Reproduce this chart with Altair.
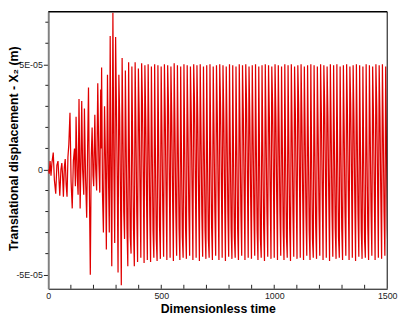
import altair as alt
import pandas as pd

FONT = "Liberation Sans"

# ---- transient part (time, value in 1e-5 m) ----
T_TIME = [0, 4, 8, 12, 16, 22, 27, 33, 38, 43, 47, 51, 56, 60, 63, 67, 71, 75, 79, 83,
          87, 91, 96, 101, 106, 111, 116, 120, 123, 128, 132, 136, 141, 145, 148, 152, 157, 160, 165, 170,
          174, 178, 182, 186, 190, 194, 198, 201, 206, 210, 214, 219, 224, 228, 232, 234, 236, 240, 244, 249,
          253, 257, 262, 266, 270, 274, 278, 281, 286, 290, 294]
T_VAL = [0.0, -0.2, 0.4, -0.3, 0.3, 0.8, -0.5, -1.15, 0.2, 0.4, -0.4, -1.25, 0.0, 0.3, -0.2, -1.3, 0.1, 0.5, -0.7, -1.3,
         0.6, 1.2, 2.7, -0.6, -1.85, 0.4, 1.0, -0.8, 2.5, -0.3, -1.2, 3.35, -1.85, 0.6, 3.25, 0.0, -1.2, 2.9, -0.4, -2.3,
         1.0, 3.9, -1.0, -5.0, 0.5, 2.0, -0.3, -0.8, 2.6, 0.0, -1.0, 4.1, 0.3, -1.1, 3.8, 1.0, 4.85, -1.2, -3.0, 3.0,
         0.5, -3.8, 4.5, 0.0, -3.0, 6.35, -1.0, -4.6, 7.45, 0.5, -3.5]

# ---- quasi-steady part: per cycle peak, upper knee, lower knee, trough (1e-5 m) ----
STEADY_START = 298
CYCLE = 14.4
PEAK = [6.30, 4.50, 5.30, 4.70, 5.10, 4.90, 5.10, 4.80, 5.05, 4.95, 5.00, 4.90,
        5.00, 4.95, 4.90, 5.00, 4.95, 4.90, 5.05, 4.95, 4.90, 5.00, 4.95, 4.90,
        5.00, 4.95, 5.00, 4.90, 4.95, 5.00, 4.90, 4.95, 5.00, 4.95, 4.90, 5.00,
        4.95, 4.90, 5.00, 4.95, 5.00, 4.90, 4.95, 5.00, 4.90, 4.95, 5.00, 4.95,
        4.90, 5.00, 4.95, 4.90, 5.00, 4.95, 5.00, 4.90, 4.95, 5.00, 4.90, 4.95,
        5.00, 4.95, 4.90, 5.00, 4.95, 4.90, 5.00, 4.95, 5.00, 4.90, 4.95, 5.00,
        4.90, 4.95, 5.00, 4.95, 4.90, 5.00, 4.95, 4.90, 5.00, 4.95, 5.00, 4.90]
UPPER = [3.0, 2.5, 1.8, 1.0, 0.5, 1.0, 1.8, 2.6, 3.1, 2.4, 1.7, 0.9,
         0.4, 0.9, 1.7, 2.5, 3.0, 2.5, 1.8, 1.0, 0.5, 1.0, 1.8, 2.6,
         3.1, 2.4, 1.7, 0.9, 0.4, 0.9, 1.7, 2.5, 3.0, 2.5, 1.8, 1.0,
         0.5, 1.0, 1.8, 2.6, 3.1, 2.4, 1.7, 0.9, 0.4, 0.9, 1.7, 2.5,
         3.0, 2.5, 1.8, 1.0, 0.5, 1.0, 1.8, 2.6, 3.1, 2.4, 1.7, 0.9,
         0.4, 0.9, 1.7, 2.5, 3.0, 2.5, 1.8, 1.0, 0.5, 1.0, 1.8, 2.6,
         3.1, 2.4, 1.7, 0.9, 0.4, 0.9, 1.7, 2.5, 3.0, 2.5, 1.8, 1.0]
LOWER = [-0.5, -1.2, -2.0, -2.8, -3.2, -2.8, -2.0, -1.0, -0.4, -1.3, -2.1, -2.9,
         -3.3, -2.7, -1.9, -1.1, -0.5, -1.2, -2.0, -2.8, -3.2, -2.8, -2.0, -1.0,
         -0.4, -1.3, -2.1, -2.9, -3.3, -2.7, -1.9, -1.1, -0.5, -1.2, -2.0, -2.8,
         -3.2, -2.8, -2.0, -1.0, -0.4, -1.3, -2.1, -2.9, -3.3, -2.7, -1.9, -1.1,
         -0.5, -1.2, -2.0, -2.8, -3.2, -2.8, -2.0, -1.0, -0.4, -1.3, -2.1, -2.9,
         -3.3, -2.7, -1.9, -1.1, -0.5, -1.2, -2.0, -2.8, -3.2, -2.8, -2.0, -1.0,
         -0.4, -1.3, -2.1, -2.9, -3.3, -2.7, -1.9, -1.1, -0.5, -1.2, -2.0, -2.8]
TROUGH = [-4.90, -5.50, -3.30, -4.60, -4.00, -4.60, -4.40, -4.20, -4.45, -4.30, -4.40, -4.20,
          -4.35, -4.25, -4.15, -4.30, -4.20, -4.35, -4.10, -4.30, -4.20, -4.25, -4.10, -4.30,
          -4.20, -4.35, -4.15, -4.25, -4.20, -4.30, -4.10, -4.30, -4.20, -4.35, -4.15, -4.25,
          -4.20, -4.30, -4.10, -4.30, -4.20, -4.25, -4.10, -4.30, -4.20, -4.35, -4.15, -4.25,
          -4.20, -4.30, -4.10, -4.30, -4.20, -4.35, -4.15, -4.25, -4.20, -4.30, -4.10, -4.30,
          -4.20, -4.25, -4.10, -4.30, -4.20, -4.35, -4.15, -4.25, -4.20, -4.30, -4.10, -4.30,
          -4.20, -4.35, -4.15, -4.25, -4.20, -4.30, -4.10, -4.30, -4.20, -4.25, -4.10, -4.30]

X_LABELS = [0, 500, 1000, 1500]
X_MINOR = [100, 200, 300, 400, 600, 700, 800, 900, 1100, 1200, 1300, 1400, 500, 1000]
Y_LABELS = [-5e-5, 0.0, 5e-5]
Y_MINOR = [-4e-5, -3e-5, -2e-5, -1e-5, 1e-5, 2e-5, 3e-5, 4e-5, 6e-5, 7e-5]

rows = [{"t": t, "v": v * 1e-5} for t, v in zip(T_TIME, T_VAL)]
n = min(len(PEAK), len(UPPER), len(LOWER), len(TROUGH))
for k in range(n):
    base = STEADY_START + k * CYCLE
    for j, val in enumerate((PEAK[k], UPPER[k], LOWER[k], TROUGH[k])):
        rows.append({"t": base + j * CYCLE / 4, "v": val * 1e-5})
df = pd.DataFrame(rows)

W, H = 345, 282
xscale = alt.Scale(domain=[0, 1500], nice=False, zero=False)
yscale = alt.Scale(domain=[-5.67e-5, 7.5e-5], nice=False, zero=False)

xaxis = alt.Axis(values=X_LABELS, format="d", tickSize=0, domainColor="black", domainWidth=1,
                 labelFont=FONT, labelFontSize=9, labelColor="#222", labelPadding=3,
                 labelFlush=False, grid=False,
                 title="Dimensionless time", titleFont=FONT, titleFontSize=12.5,
                 titleFontWeight="bold", titleColor="black", titleY=24, titleBaseline="alphabetic")
yaxis = alt.Axis(values=Y_LABELS, tickSize=5, tickColor="#222", domainColor="#808080", domainWidth=2,
                 labelExpr="datum.value == 0 ? '0' : round(datum.value*1e5) + 'E-05'",
                 labelFont=FONT, labelFontSize=9, labelColor="#222", labelPadding=1,
                 labelFlush=False, grid=False,
                 title="Translational displacement - X₂ (m)", titleFont=FONT, titleFontSize=12.5,
                 titleFontWeight="bold", titleColor="black", titleAngle=270, titleX=-31, titleY=139,
                 titleAlign="center", titleBaseline="alphabetic")

line = alt.Chart(df).mark_line(color="#e00000", strokeWidth=1.25, clip=True).encode(
    x=alt.X("t:Q", scale=xscale, axis=xaxis),
    y=alt.Y("v:Q", scale=yscale, axis=yaxis),
)

xticks = alt.Chart(pd.DataFrame({"t": X_MINOR})).mark_rule(color="#222", strokeWidth=1).encode(
    x=alt.X("t:Q"), y=alt.value(H), y2=alt.value(H - 4)
)
yticks = alt.Chart(pd.DataFrame({"v": Y_MINOR})).mark_rule(color="#222", strokeWidth=1).encode(
    y=alt.Y("v:Q"), x=alt.value(-3), x2=alt.value(0)
)
top = alt.Chart(pd.DataFrame({"a": [0]})).mark_rule(color="black", strokeWidth=1.5).encode(
    x=alt.value(0), x2=alt.value(W), y=alt.value(0)
)
right = alt.Chart(pd.DataFrame({"a": [0]})).mark_rule(color="black", strokeWidth=1).encode(
    x=alt.value(W), y=alt.value(0), y2=alt.value(H)
)

chart = alt.layer(line, xticks, yticks, top, right).properties(
    width=W, height=H,
    padding={"left": 41, "top": 1, "right": 12, "bottom": 26},
    autosize=alt.AutoSizeParams(type="none"),
).configure_view(stroke=None)

chart.save("out.html", embed_options={"renderer": "svg", "actions": False})
